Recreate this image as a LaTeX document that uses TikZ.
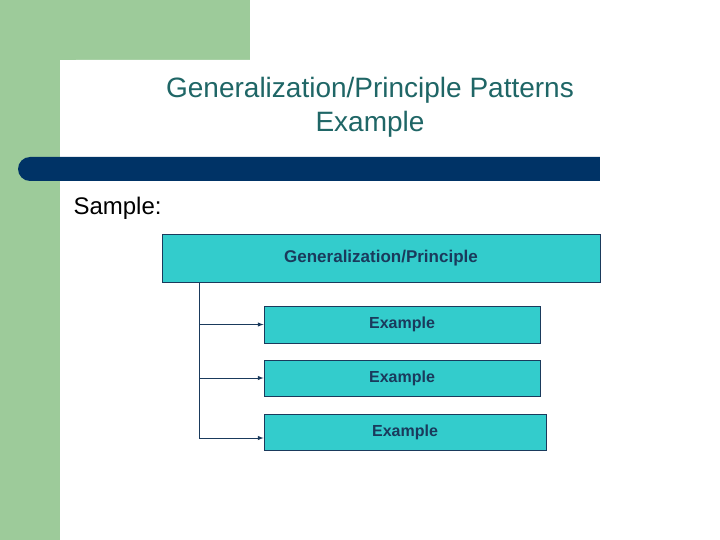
\documentclass[tikz,border=0pt]{standalone}
\usepackage{fontspec}
\setmainfont{Liberation Sans}
\usetikzlibrary{positioning}
\definecolor{mygreen}{HTML}{9DCB9A}
\definecolor{mynavy}{HTML}{003366}
\definecolor{myteal}{HTML}{33CCCC}
\definecolor{mytitle}{HTML}{1F6666}
\definecolor{mytext}{HTML}{1A3A5C}

\begin{document}
\begin{tikzpicture}[x=1pt, y=-1pt,
        boxnode/.style={rectangle, draw=mytext, fill=myteal, line width=0.8pt, inner sep=0pt, font=\bfseries\fontsize{16}{18}\selectfont, text=mytext},
        linkline/.style={line width=1pt, draw=mytext, -latex}]
        \useasboundingbox (0,0) rectangle (720,540);
        % background
        \fill[white] (0,0) rectangle (720,540);
        \fill[mygreen] (0,0) rectangle (250,60);
        \fill[mygreen] (0,0) rectangle (60,540);
        \fill[white, rounded corners=16pt] (60,60) rectangle (740,560);
        \fill[mynavy, rounded corners=12pt] (18,157) rectangle (620,181);
        \fill[mynavy] (580,157) rectangle (600,181);
        \fill[white] (600,150) rectangle (720,190);
        % title
        \node[text=mytitle, align=center, font=\fontsize{28}{34}\selectfont] (title) at (370,107) {Generalization/Principle Patterns\\Example};
        \node[anchor=west, font=\fontsize{24}{28}\selectfont] (sample) at (70,208) {Sample:};
        % boxes
        \node[boxnode, minimum width=438pt, minimum height=48pt, font=\bfseries\fontsize{17}{20}\selectfont] (gen) at (381,258) {Generalization/Principle};
        \node[boxnode, minimum width=276pt, minimum height=37pt] (ex1) at (402,324.5) {Example};
        \node[boxnode, minimum width=276pt, minimum height=36pt] (ex2) at (402,378) {Example};
        \node[boxnode, minimum width=282pt, minimum height=36pt] (ex3) at (405,432) {Example};
        \coordinate (top) at (199,282);
        \coordinate (bot) at (199,438);
        % connectors
        \draw[line width=1pt, draw=mytext] (top) -- (bot);
        \draw[linkline] (ex1.west -| top) -- (ex1.west);
        \draw[linkline] (ex2.west -| top) -- (ex2.west);
        \draw[linkline] (bot) -- (bot -| ex3.west);
\end{tikzpicture}
\end{document}
